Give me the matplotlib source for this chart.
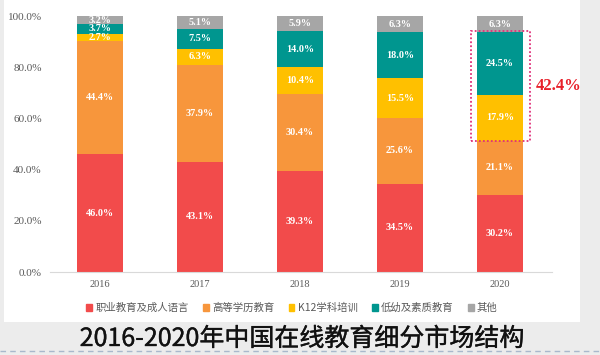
import numpy as np
import matplotlib
matplotlib.use("Agg")
import matplotlib.pyplot as plt
import matplotlib.patheffects as pe
from matplotlib.patches import Rectangle
from matplotlib.lines import Line2D

# 数据（单位：%）
years = ["2016", "2017", "2018", "2019", "2020"]
segments = ["职业教育及成人语言", "高等学历教育", "K12学科培训", "低幼及素质教育", "其他"]
vocational = [46.0, 43.1, 39.3, 34.5, 30.2]
higher_edu = [44.4, 37.9, 30.4, 25.6, 21.1]
k12 = [2.7, 6.3, 10.4, 15.5, 17.9]
preschool = [3.7, 7.5, 14.0, 18.0, 24.5]
others = [3.2, 5.1, 5.9, 6.3, 6.3]
highlight_text = "42.4%"
title = "2016-2020年中国在线教育细分市场结构"

colors = ["#F24B4B", "#F7963C", "#FFC000", "#00968F", "#A6A6A6"]
series = [vocational, higher_edu, k12, preschool, others]

serif = ["Liberation Serif", "DejaVu Serif"]
cjk = ["Noto Sans CJK SC", "DejaVu Sans"]

fig = plt.figure(figsize=(6, 3.55), dpi=100)
fig.patch.set_facecolor("#ECECEC")
# 白色面板
fig.patches.append(Rectangle((4 / 600, 1 - 322 / 355), 576 / 600, 322 / 355,
                             transform=fig.transFigure, facecolor="white",
                             edgecolor="none", zorder=-5))

ax = fig.add_axes([50 / 600, 1 - 272 / 355, 502 / 600, 256 / 355])
ax.set_zorder(2)
ax.patch.set_alpha(0)
x = np.arange(len(years))
width = 0.46
bottom = np.zeros(len(years))
for vals, c in zip(series, colors):
    vals = np.array(vals)
    ax.bar(x, vals, width, bottom=bottom, color=c, zorder=2)
    for xi, b, v in zip(x, bottom, vals):
        ax.text(xi, b + v / 2, f"{v:.1f}%", ha="center", va="center",
                color="white", fontsize=7.3, fontweight="bold", family=serif, zorder=3)
    bottom += vals

ax.set_xlim(-0.5, 4.52)
ax.set_ylim(0, 100)
ax.set_yticks(np.arange(0, 101, 20))
ax.set_yticklabels([f"{v:.1f}%" for v in np.arange(0, 101, 20)],
                   family=serif, fontsize=8, color="#595959")
ax.set_xticks(x)
ax.set_xticklabels(years, family=serif, fontsize=7.5, color="#595959")
ax.tick_params(length=0, pad=6)
for s in ["top", "right", "left"]:
    ax.spines[s].set_visible(False)
ax.spines["bottom"].set_color("#D9D9D9")

# 2020年 K12+低幼 高亮框
b0 = vocational[4] + higher_edu[4]
b1 = b0 + k12[4] + preschool[4]
ax.add_patch(Rectangle((4 - 0.29, b0 - 0.3), 0.59, b1 - b0 + 0.7, fill=False,
                       edgecolor="#E0307A", linestyle=(0, (1, 1.2)), linewidth=1.3,
                       clip_on=False, zorder=4))
ax.text(4.36, (b0 + b1) / 2, highlight_text, ha="left", va="center", color="#E8202A",
        fontsize=12, fontweight="bold", family=serif, clip_on=False)

handles = [Rectangle((0, 0), 1, 1, color=c) for c in colors]
leg = fig.legend(handles, segments, loc="center", bbox_to_anchor=(292 / 600, 1 - 308 / 355),
                 ncol=5, frameon=False, handlelength=0.55, handleheight=0.55,
                 handletextpad=0.3, columnspacing=1.4, prop={"family": cjk, "size": 7.5})
for t in leg.get_texts():
    t.set_color("#595959")

fig.text(302 / 600, 1 - 339 / 355, title, ha="center", va="center",
         fontsize=18, family=cjk, color="#111111",
         path_effects=[pe.withStroke(linewidth=0.25, foreground="#111111")])

fig.lines.append(Line2D([0, 1], [1 - 351 / 355] * 2, transform=fig.transFigure,
                        color="#A9B8CC", linestyle=(0, (4, 3)), linewidth=1))

fig.savefig("out.png", dpi=100, facecolor=fig.get_facecolor())
